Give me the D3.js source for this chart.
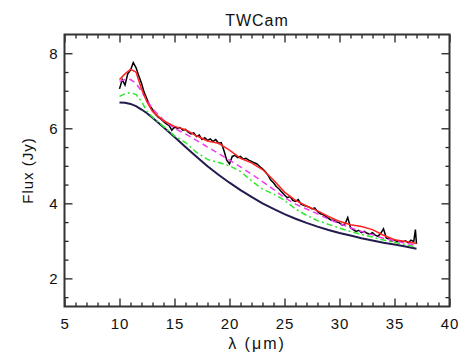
<!DOCTYPE html>
<html>
<head>
<meta charset="utf-8">
<script src="https://cdn.jsdelivr.net/npm/d3@7"></script>
<style>
  body { margin: 0; background: #fff; }
  text { font-family: "Liberation Sans", Arial, sans-serif; fill: #111; }
</style>
</head>
<body>
<script>
// model curves, sampled at integer/half wavelengths (um) -> flux (Jy)
var modelWave = [10, 10.5, 11, 11.5, 12, 12.5, 13, 14, 15, 16, 17, 18, 19, 20, 21, 22, 23, 24, 25, 26, 27, 28, 29, 30, 31, 32, 33, 34, 35, 36, 37];
var totalModel = [7.3, 7.45, 7.57, 7.5, 7.05, 6.7, 6.45, 6.2, 6.05, 5.96, 5.8, 5.66, 5.6, 5.42, 5.2, 5.08, 4.9, 4.62, 4.3, 4.08, 3.93, 3.8, 3.65, 3.52, 3.43, 3.38, 3.3, 3.15, 3.03, 2.98, 2.93];
var dashModel = [7.25, 7.3, 7.3, 7.2, 6.98, 6.75, 6.52, 6.22, 6.0, 5.85, 5.68, 5.5, 5.33, 5.15, 4.97, 4.78, 4.58, 4.37, 4.15, 3.98, 3.85, 3.72, 3.58, 3.46, 3.35, 3.25, 3.16, 3.07, 3.0, 2.94, 2.88];
var dashDotModel = [6.85, 6.92, 6.95, 6.9, 6.72, 6.45, 6.3, 6.05, 5.8, 5.62, 5.36, 5.17, 5.09, 5.0, 4.85, 4.6, 4.38, 4.25, 4.08, 3.85, 3.68, 3.54, 3.44, 3.34, 3.25, 3.17, 3.1, 3.02, 2.96, 2.9, 2.83];
var continuum = [6.69, 6.68, 6.65, 6.59, 6.5, 6.4, 6.28, 6.03, 5.77, 5.5, 5.24, 4.99, 4.76, 4.55, 4.35, 4.17, 4.0, 3.85, 3.71, 3.59, 3.48, 3.38, 3.29, 3.21, 3.14, 3.07, 3.01, 2.95, 2.9, 2.85, 2.79];

// observed spectrum
var obsWave = [10, 10.25, 10.5, 10.75, 11, 11.25, 11.5, 11.75, 12, 12.25, 12.5, 12.75, 13, 13.25, 13.5, 13.75,
  14, 14.25, 14.5, 14.75, 15, 15.25, 15.5, 15.75, 16, 16.25, 16.5, 16.75, 17, 17.25, 17.5, 17.75,
  18, 18.25, 18.5, 18.75, 19, 19.25, 19.5, 19.75, 20, 20.25, 20.5, 20.75, 21, 21.25, 21.5, 21.75,
  22, 22.25, 22.5, 22.75, 23, 23.25, 23.5, 23.75, 24, 24.25, 24.5, 24.75, 25, 25.25, 25.5, 25.75,
  26, 26.25, 26.5, 26.75, 27, 27.25, 27.5, 27.75, 28, 28.25, 28.5, 28.75, 29, 29.25, 29.5, 29.75,
  30, 30.25, 30.5, 30.75, 31, 31.25, 31.5, 31.75, 32, 32.25, 32.5, 32.75, 33, 33.25, 33.5, 33.75,
  34, 34.25, 34.5, 34.75, 35, 35.25, 35.5, 35.75, 36, 36.25, 36.5, 36.75, 36.9, 37];
var obsFlux = [7.05, 7.3, 7.15, 7.45, 7.55, 7.75, 7.62, 7.4, 7.2, 6.95, 6.78, 6.6, 6.5, 6.38, 6.3, 6.25,
  6.18, 6.12, 6.08, 5.95, 6.03, 6.0, 6.02, 5.95, 5.97, 5.9, 5.85, 5.88, 5.78, 5.82, 5.7, 5.75,
  5.68, 5.72, 5.65, 5.7, 5.6, 5.62, 5.4, 5.15, 5.05, 5.25, 5.28, 5.22, 5.25, 5.18, 5.2, 5.15,
  5.12, 5.08, 5.05, 4.98, 4.92, 4.85, 4.75, 4.62, 4.55, 4.45, 4.38, 4.3, 4.22, 4.15, 4.18, 4.08,
  4.05, 4.1, 3.98, 3.95, 3.92, 3.9, 3.85, 3.88, 3.78, 3.72, 3.7, 3.65, 3.6, 3.55, 3.55, 3.5,
  3.48, 3.42, 3.45, 3.62, 3.35, 3.3, 3.25, 3.28, 3.22, 3.25, 3.2, 3.18, 3.22, 3.15, 3.12, 3.2,
  3.32, 3.08, 3.05, 3.0, 3.02, 2.98, 3.0, 2.97, 3.0, 2.95, 3.02, 2.98, 3.3, 2.92];

var xTicks = [5, 10, 15, 20, 25, 30, 35, 40];
var yTicks = [2, 4, 6, 8];

var width = 473,
	height = 356,
	plotLeft = 64.5,
	plotRight = 449.5,
	plotTop = 34.5,
	plotBottom = 306.5;

var svg = d3.select("body")
	.append("svg")
	.attr("width", width)
	.attr("height", height);

var x = d3.scaleLinear().domain([5, 40]).range([plotLeft, plotRight]);
var y = d3.scaleLinear().domain([1.25, 8.5]).range([plotBottom, plotTop]);

var xMinor = d3.range(6, 40, 1).filter(function(d) { return d % 5 != 0; });
var yMinor = d3.range(1.5, 8.5, 0.5).filter(function(d) { return d % 2 != 0; });

// axes: ticks point inward on all four sides
function styleAxis(g) {
	g.select(".domain").remove();
	g.selectAll(".tick line").attr("stroke", "#222").attr("stroke-width", 1.3);
	g.selectAll(".tick text").attr("font-size", 15).attr("letter-spacing", 0.8).attr("fill", "#111");
}

svg.append("g").attr("transform", "translate(0," + plotBottom + ")")
	.call(d3.axisBottom(x).tickValues(xTicks).tickSize(-8).tickPadding(12).tickFormat(d3.format("d")))
	.call(styleAxis);
svg.append("g").attr("transform", "translate(0," + plotBottom + ")")
	.call(d3.axisBottom(x).tickValues(xMinor).tickSize(-4).tickFormat(""))
	.call(styleAxis);
svg.append("g").attr("transform", "translate(0," + plotTop + ")")
	.call(d3.axisTop(x).tickValues(xTicks).tickSize(-8).tickFormat(""))
	.call(styleAxis);
svg.append("g").attr("transform", "translate(0," + plotTop + ")")
	.call(d3.axisTop(x).tickValues(xMinor).tickSize(-4).tickFormat(""))
	.call(styleAxis);

svg.append("g").attr("transform", "translate(" + plotLeft + ",0)")
	.call(d3.axisLeft(y).tickValues(yTicks).tickSize(-8).tickPadding(6).tickFormat(d3.format("d")))
	.call(styleAxis);
svg.append("g").attr("transform", "translate(" + plotLeft + ",0)")
	.call(d3.axisLeft(y).tickValues(yMinor).tickSize(-4).tickFormat(""))
	.call(styleAxis);
svg.append("g").attr("transform", "translate(" + plotRight + ",0)")
	.call(d3.axisRight(y).tickValues(yTicks).tickSize(-8).tickFormat(""))
	.call(styleAxis);
svg.append("g").attr("transform", "translate(" + plotRight + ",0)")
	.call(d3.axisRight(y).tickValues(yMinor).tickSize(-4).tickFormat(""))
	.call(styleAxis);

svg.append("rect")
	.attr("x", plotLeft)
	.attr("y", plotTop)
	.attr("width", plotRight - plotLeft)
	.attr("height", plotBottom - plotTop)
	.attr("fill", "none")
	.attr("stroke", "#333")
	.attr("stroke-width", 2);

// curves
function curve(xs, ys) {
	return d3.line()
		.x(function(d, i) { return x(xs[i]); })
		.y(function(d) { return y(d); })(ys);
}

svg.append("path")
	.attr("d", curve(obsWave, obsFlux))
	.attr("fill", "none")
	.attr("stroke", "#000")
	.attr("stroke-width", 1.5);

svg.append("path")
	.attr("d", curve(modelWave, continuum))
	.attr("fill", "none")
	.attr("stroke", "#231a4e")
	.attr("stroke-width", 2);

svg.append("path")
	.attr("d", curve(modelWave, dashDotModel))
	.attr("fill", "none")
	.attr("stroke", "#2ee82e")
	.attr("stroke-width", 1.5)
	.attr("stroke-dasharray", "6,3,2,3");

svg.append("path")
	.attr("d", curve(modelWave, dashModel))
	.attr("fill", "none")
	.attr("stroke", "#ee3cee")
	.attr("stroke-width", 1.5)
	.attr("stroke-dasharray", "6,4");

svg.append("path")
	.attr("d", curve(modelWave, totalModel))
	.attr("fill", "none")
	.attr("stroke", "#ff2222")
	.attr("stroke-width", 1.5);

// labels
svg.append("text")
	.attr("x", (plotLeft + plotRight) / 2)
	.attr("y", 26)
	.attr("text-anchor", "middle")
	.attr("font-size", 16)
	.attr("letter-spacing", 1)
	.text("TWCam");

svg.append("text")
	.attr("x", (plotLeft + plotRight) / 2)
	.attr("y", 349)
	.attr("text-anchor", "middle")
	.attr("font-size", 16)
	.attr("letter-spacing", 2)
	.text("λ (μm)");

svg.append("text")
	.attr("transform", "translate(33," + (plotTop + plotBottom) / 2 + ") rotate(-90)")
	.attr("text-anchor", "middle")
	.attr("font-size", 15)
	.attr("letter-spacing", 1)
	.text("Flux (Jy)");
</script>
</body>
</html>
